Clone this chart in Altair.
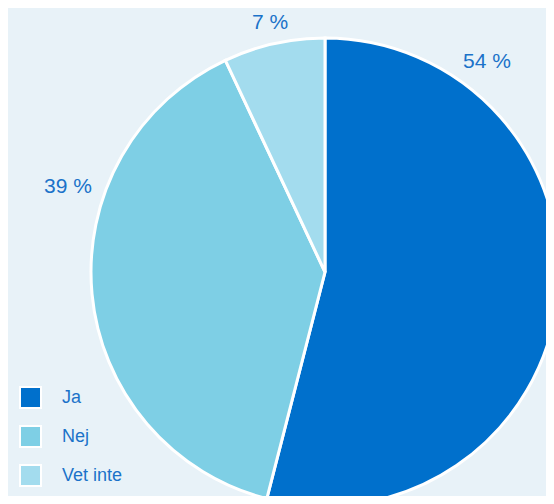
import altair as alt
import pandas as pd

categories = ["Ja", "Nej", "Vet inte"]
values = [54, 39, 7]
labels = ["54 %", "39 %", "7 %"]
colors = ["#0070cc", "#7ecfe5", "#a3dcee"]

df = pd.DataFrame({"cat": categories, "val": values, "order": [0, 1, 2]})

pie = alt.Chart(df).mark_arc(stroke="white", strokeWidth=3, radius=234).encode(
    theta=alt.Theta("val:Q", stack=True),
    order=alt.Order("order:Q"),
    color=alt.Color(
        "cat:N",
        scale=alt.Scale(domain=categories, range=colors),
        sort=categories,
        legend=alt.Legend(
            title=None,
            orient="none",
            legendX=11,
            legendY=378,
            symbolType="square",
            symbolSize=441,
            symbolStrokeColor="white",
            symbolStrokeWidth=2,
            symbolOpacity=1,
            labelFontSize=18,
            labelColor="#1b72c9",
            labelFont="Liberation Sans",
            labelOffset=20,
            rowPadding=10,
            padding=0,
        ),
    ),
    x=alt.value(317),
    y=alt.value(264),
)

lab_df = pd.DataFrame({"label": labels, "px": [479, 60, 262], "py": [54, 179, 15]})
text = alt.Chart(lab_df).mark_text(
    fontSize=21, color="#1b72c9", font="Liberation Sans", baseline="middle", align="center"
).encode(
    text="label:N",
    x=alt.X("px:Q", scale=None),
    y=alt.Y("py:Q", scale=None),
)

chart = alt.layer(pie, text).properties(
    width=538, height=488, background="#e8f2f8", padding=0,
    autosize=alt.AutoSizeParams(type="none"),
).configure_view(stroke=None)

chart.save("out.html", embed_options={"renderer": "svg", "actions": False})
